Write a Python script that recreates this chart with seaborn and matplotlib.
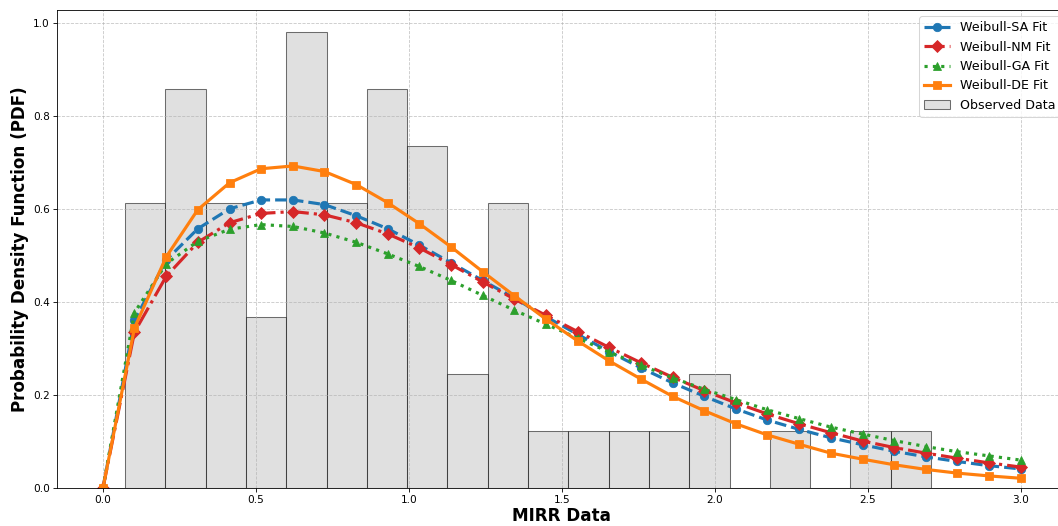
import numpy as np
import pandas as pd
import matplotlib
matplotlib.use("Agg")
import matplotlib.pyplot as plt
import seaborn as sns

bin_edges = [0.0720, 0.2038, 0.3355, 0.4673, 0.5990, 0.7308, 0.8625, 0.9943, 1.1260,
             1.2578, 1.3895, 1.5213, 1.6530, 1.7848, 1.9165, 2.0483, 2.1800, 2.3118,
             2.4435, 2.5753, 2.7070]
bin_counts = [5, 7, 5, 3, 8, 5, 7, 6, 2, 5, 1, 1, 1, 1, 2, 0, 1, 0, 1, 1]

# grid of x values where the fitted PDFs are evaluated
x_grid = [0.000, 0.103, 0.207, 0.310, 0.414, 0.517, 0.621, 0.724, 0.828, 0.931,
          1.034, 1.138, 1.241, 1.345, 1.448, 1.552, 1.655, 1.759, 1.862, 1.966,
          2.069, 2.172, 2.276, 2.379, 2.483, 2.586, 2.690, 2.793, 2.897, 3.000]

pdf_sa = [0.000, 0.360, 0.490, 0.557, 0.600, 0.619, 0.619, 0.609, 0.585, 0.557,
          0.522, 0.484, 0.446, 0.408, 0.368, 0.330, 0.293, 0.258, 0.226, 0.197,
          0.170, 0.146, 0.126, 0.108, 0.093, 0.079, 0.067, 0.057, 0.048, 0.041]
pdf_nm = [0.000, 0.335, 0.455, 0.528, 0.570, 0.590, 0.594, 0.587, 0.570, 0.546,
          0.516, 0.480, 0.443, 0.406, 0.371, 0.336, 0.302, 0.269, 0.238, 0.209,
          0.183, 0.159, 0.138, 0.119, 0.101, 0.087, 0.075, 0.064, 0.054, 0.045]
pdf_ga = [0.000, 0.377, 0.482, 0.530, 0.556, 0.566, 0.562, 0.548, 0.528, 0.503,
          0.476, 0.446, 0.414, 0.382, 0.352, 0.322, 0.292, 0.264, 0.237, 0.212,
          0.190, 0.168, 0.149, 0.131, 0.116, 0.102, 0.089, 0.078, 0.069, 0.060]
pdf_de = [0.000, 0.344, 0.497, 0.598, 0.656, 0.686, 0.692, 0.680, 0.652, 0.613,
          0.568, 0.518, 0.465, 0.413, 0.363, 0.316, 0.273, 0.234, 0.197, 0.166,
          0.138, 0.114, 0.094, 0.075, 0.062, 0.050, 0.040, 0.032, 0.026, 0.021]

fits = [
    ("Weibull-SA Fit", pdf_sa, "tab:blue", "--", "o"),
    ("Weibull-NM Fit", pdf_nm, "tab:red", "-.", "D"),
    ("Weibull-GA Fit", pdf_ga, "tab:green", ":", "^"),
    ("Weibull-DE Fit", pdf_de, "tab:orange", "-", "s"),
]

fig = plt.figure(figsize=(14, 6.954), dpi=75.64)
ax = fig.add_axes([0.0539, 0.0722, 0.9533, 0.9087])

# observed data as a density histogram
centers = [(a + b) / 2 for a, b in zip(bin_edges[:-1], bin_edges[1:])]
hist_df = pd.DataFrame({"x": centers, "w": bin_counts})
sns.histplot(data=hist_df, x="x", weights="w", bins=bin_edges, stat="density",
             color="lightgray", edgecolor=(0, 0, 0, 0.55), alpha=0.7, ax=ax,
             label="Observed Data")

for name, vals, col, ls, mk in fits:
    sns.lineplot(x=x_grid, y=vals, color=col, linestyle=ls, marker=mk,
                 linewidth=3, markersize=8, markeredgecolor=col,
                 label=name, ax=ax)

ax.set_xlim(-0.15, 3.15)
ax.set_ylim(0, 1.027)
ax.set_xticks([0.0, 0.5, 1.0, 1.5, 2.0, 2.5, 3.0])
ax.set_yticks([0.0, 0.2, 0.4, 0.6, 0.8, 1.0])
ax.set_xlabel("MIRR Data", fontsize=16, fontweight="bold", labelpad=2)
ax.set_ylabel("Probability Density Function (PDF)", fontsize=16, fontweight="bold")
ax.grid(True, linestyle="--", alpha=0.7)

# legend: fits first, histogram last
handles, labels = ax.get_legend_handles_labels()
order = [labels.index(l) for l in ["Weibull-SA Fit", "Weibull-NM Fit", "Weibull-GA Fit",
                                    "Weibull-DE Fit", "Observed Data"]]
ax.legend([handles[i] for i in order], [labels[i] for i in order],
          loc="upper right", fontsize=12)

fig.savefig("out.png", dpi=75.64)
